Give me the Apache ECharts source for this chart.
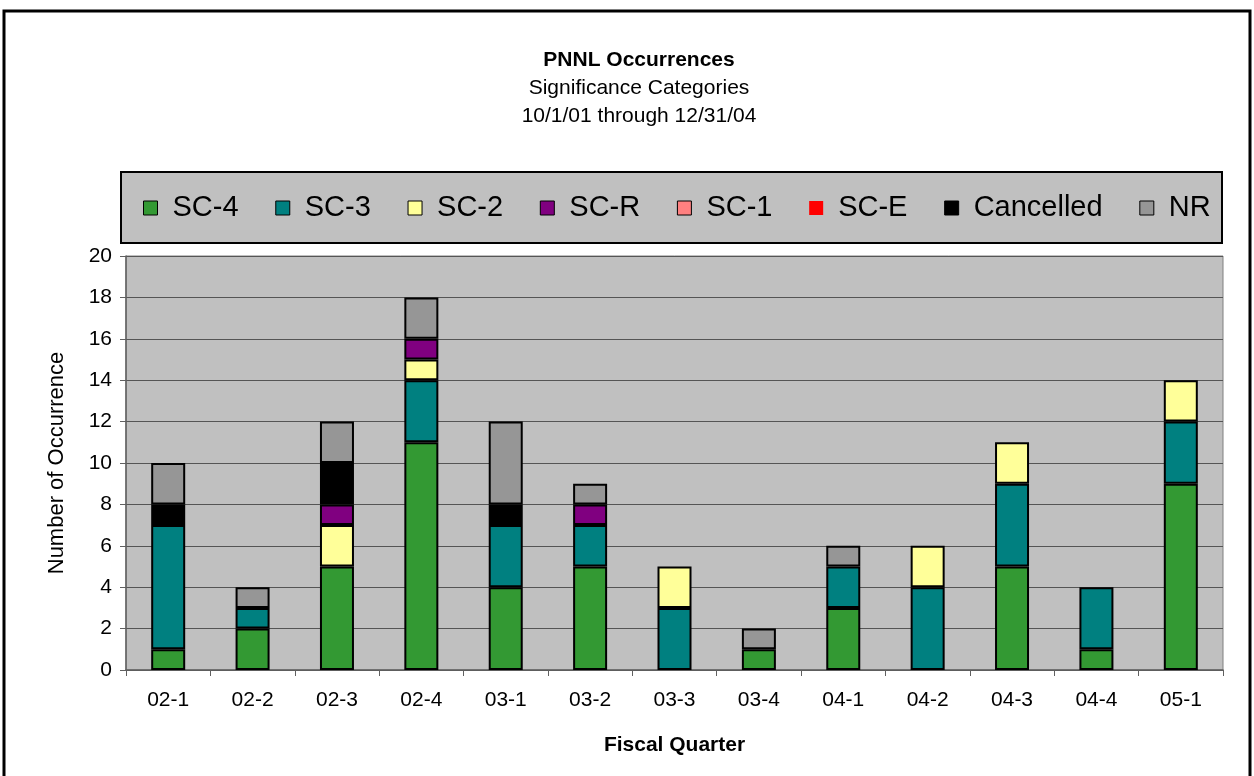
<!DOCTYPE html>
<html>
<head>
<meta charset="utf-8">
<script src="https://cdn.jsdelivr.net/npm/echarts@6/dist/echarts.min.js"></script>
<style>
html,body{margin:0;padding:0;background:#fff;}
#chart{width:1254px;height:776px;}
</style>
</head>
<body>
<div id="chart"></div>
<script>
const categories = ['02-1','02-2','02-3','02-4','03-1','03-2','03-3','03-4','04-1','04-2','04-3','04-4','05-1'];
const sc4       = [1, 2, 5, 11, 4, 5, 0, 1, 3, 0, 5, 1, 9];
const sc3       = [6, 1, 0, 3, 3, 2, 3, 0, 2, 4, 4, 3, 3];
const sc2       = [0, 0, 2, 1, 0, 0, 2, 0, 0, 2, 2, 0, 2];
const scR       = [0, 0, 1, 1, 0, 1, 0, 0, 0, 0, 0, 0, 0];
const sc1       = [0, 0, 0, 0, 0, 0, 0, 0, 0, 0, 0, 0, 0];
const scE       = [0, 0, 0, 0, 0, 0, 0, 0, 0, 0, 0, 0, 0];
const cancelled = [1, 0, 2, 0, 1, 0, 0, 0, 0, 0, 0, 0, 0];
const nr        = [2, 1, 2, 2, 4, 1, 0, 1, 1, 0, 0, 0, 0];

const seriesNames = ['SC-4','SC-3','SC-2','SC-R','SC-1','SC-E','Cancelled','NR'];
const seriesData = [sc4, sc3, sc2, scR, sc1, scE, cancelled, nr];
const seriesColors = ['#339933','#008080','#FFFF99','#800080','#FF8080','#FF0000','#000000','#969696'];

const FONT = '"Liberation Sans", Arial, sans-serif';
const chart = echarts.init(document.getElementById('chart'), null, {renderer:'canvas'});

const option = {
  animation: false,
  backgroundColor: '#ffffff',
  textStyle: { fontFamily: FONT, color: '#000' },
  title: [
    { text: 'PNNL Occurrences', left: 634, top: 45, textAlign: 'center',
      textStyle: { fontFamily: FONT, fontSize: 21, fontWeight: 'bold', color: '#000' } },
    { text: 'Significance Categories', left: 634, top: 73, textAlign: 'center',
      textStyle: { fontFamily: FONT, fontSize: 21, fontWeight: 'normal', color: '#000' } },
    { text: '10/1/01 through 12/31/04', left: 634, top: 101, textAlign: 'center',
      textStyle: { fontFamily: FONT, fontSize: 21, fontWeight: 'normal', color: '#000' } }
  ],
  graphic: [
    { type: 'rect', z: -10, silent: true,
      shape: { x: 4, y: 11, width: 1246, height: 800 },
      style: { fill: '#fff', stroke: '#000', lineWidth: 3 } },
    { type: 'rect', z: -5, silent: true,
      shape: { x: 121, y: 172, width: 1101, height: 71 },
      style: { fill: '#C0C0C0', stroke: '#000', lineWidth: 2 } }
  ],
  legend: {
    left: 143, top: 193,
    icon: 'rect', itemWidth: 14, itemHeight: 14, itemGap: 36.7,
    padding: 0,
    textStyle: { fontFamily: FONT, fontSize: 29, color: '#000', padding: [0,0,0,10], lineHeight: 30 },
    itemStyle: { borderColor: '#000', borderWidth: 1 },
    data: seriesNames.map((n) => n === 'SC-E'
      ? { name: n, itemStyle: { borderWidth: 0 } }
      : { name: n })
  },
  grid: { left: 126, right: 31, top: 256, bottom: 106, show: true,
          backgroundColor: '#C0C0C0', borderWidth: 1, borderColor: '#808080', containLabel: false },
  xAxis: {
    type: 'category', data: categories,
    name: 'Fiscal Quarter', nameLocation: 'middle', nameGap: 65,
    nameTextStyle: { fontFamily: FONT, fontSize: 21, fontWeight: 'bold', color: '#000' },
    axisLine: { lineStyle: { color: '#606060', width: 1.5 } },
    axisTick: { show: true, length: 6, lineStyle: { color: '#606060' } },
    axisLabel: { fontFamily: FONT, fontSize: 21, color: '#000', margin: 20 },
    splitLine: { show: false }
  },
  yAxis: {
    type: 'value', min: 0, max: 20, interval: 2,
    name: 'Number of Occurrence', nameLocation: 'middle', nameGap: 58, nameRotate: 90,
    nameTextStyle: { fontFamily: FONT, fontSize: 22, color: '#000' },
    axisLine: { show: true, lineStyle: { color: '#606060', width: 1.5 } },
    axisTick: { show: true, length: 6, lineStyle: { color: '#606060' } },
    axisLabel: { fontFamily: FONT, fontSize: 21, color: '#000', margin: 14 },
    splitLine: { show: true, lineStyle: { color: '#555555', width: 1.2 } }
  },
  series: seriesNames.map((name, i) => ({
    name: name, type: 'bar', stack: 'total', barWidth: 34,
    data: seriesData[i].map(v => v === 0 ? '-' : v),
    itemStyle: { color: seriesColors[i], borderColor: '#000', borderWidth: 2 },
    emphasis: { disabled: true }
  }))
};
chart.setOption(option);
</script>
</body>
</html>
